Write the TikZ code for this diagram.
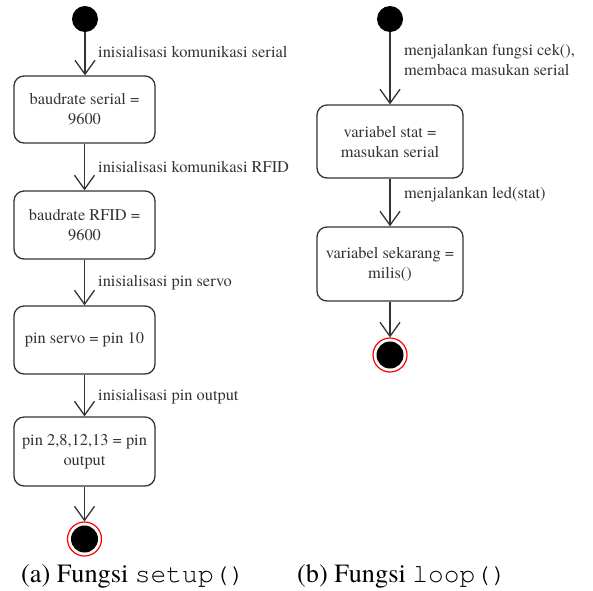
\documentclass[tikz,border=0pt]{standalone}
\usepackage{fontspec}
\setmainfont{texgyretermes-regular.otf}
\setmonofont{texgyrecursor-regular.otf}
\usetikzlibrary{arrows.meta}
\definecolor{ln}{HTML}{333333}
\tikzset{
  act/.style={draw=ln, line width=1.3pt, rounded corners=10pt, align=center, text=ln,
     font=\fontsize{16.4}{20}\selectfont, inner sep=0pt},
  lbl/.style={anchor=west, align=left, text=ln, font=\fontsize{16.4}{20}\selectfont, inner sep=0pt},
  startnode/.style={circle, fill=black, minimum size=26pt, inner sep=0pt},
  endring/.style={circle, draw=red, line width=1.2pt, fill=white, minimum size=34pt, inner sep=0pt},
  endcore/.style={circle, fill=black, minimum size=27pt, inner sep=0pt},
  arr/.style={draw=ln, line width=1.3pt, -{Straight Barb[length=14pt, width=20pt, line width=1.3pt]}},
  captext/.style={font=\fontsize{26.3}{30}\selectfont, anchor=base west, inner sep=0pt}
}
\begin{document}
\begin{tikzpicture}[x=1pt, y=-1pt]
\useasboundingbox (0,0) rectangle (593,590);
% left column
\node[startnode] (s1) at (85,19) {};
\node[act, minimum width=141pt, minimum height=67pt] (a1) at (84.5,109.5) {baudrate serial =\\9600};
\node[act, minimum width=141pt, minimum height=68pt] (a2) at (84.5,225) {baudrate RFID =\\9600};
\node[act, minimum width=141pt, minimum height=68pt] (a3) at (84.5,340) {pin servo = pin 10};
\node[act, minimum width=141pt, minimum height=69pt] (a4) at (84.5,451.5) {pin 2,8,12,13 = pin\\output};
\node[endring] (e1) at (84.5,539) {};
\node[endcore] (e1c) at (84.5,539) {};
\draw[arr] (s1) -- (a1.north -| s1);
\draw[arr] (a1) -- (a2);
\draw[arr] (a2) -- (a3);
\draw[arr] (a3) -- (a4);
\draw[arr] (a4) -- (e1);
\node[lbl] (l1) at (98,52) {inisialisasi komunikasi serial};
\node[lbl] (l2) at (98,167) {inisialisasi komunikasi RFID};
\node[lbl] (l3) at (98,283) {inisialisasi pin servo};
\node[lbl] (l4) at (98,397) {inisialisasi pin output};
% right column
\node[startnode] (s2) at (390,19) {};
\node[act, minimum width=146pt, minimum height=73pt] (b1) at (390,141.5) {variabel stat =\\masukan serial};
\node[act, minimum width=146pt, minimum height=74pt] (b2) at (390,264) {variabel sekarang =\\milis()};
\node[endring] (e2) at (390,355) {};
\node[endcore] (e2c) at (390,355) {};
\draw[arr] (s2) -- (b1);
\draw[arr] (b1) -- (b2);
\draw[arr] (b2) -- (e2);
\node[lbl] (m1) at (404,60) {menjalankan fungsi cek(),\\membaca masukan serial};
\node[lbl] (m2) at (404,195) {menjalankan led(stat)};
% captions
\node[captext] (c1) at (21,582) {(a) Fungsi \texttt{setup()}};
\node[captext] (c2) at (297,582) {(b) Fungsi \texttt{loop()}};
\end{tikzpicture}
\end{document}
